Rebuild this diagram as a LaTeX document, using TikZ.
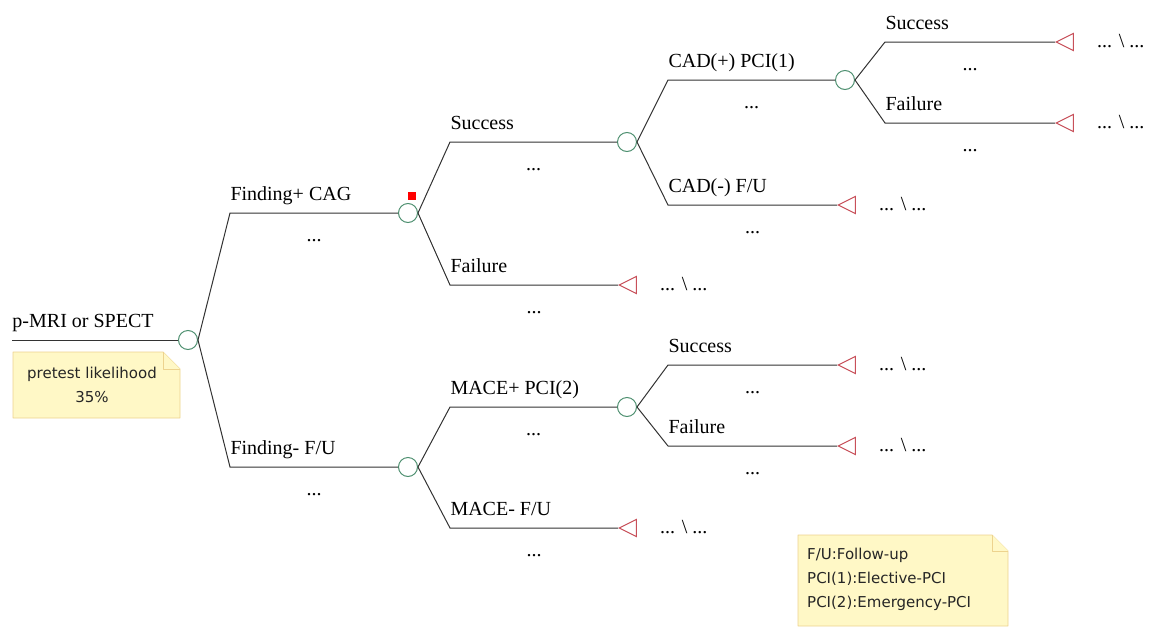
\documentclass[tikz,border=0pt]{standalone}
\usepackage{fontspec}
\setmainfont{Liberation Serif}
\newfontfamily\notefont{DejaVu Sans}
\usetikzlibrary{shapes.geometric}
\definecolor{chancegreen}{HTML}{4E9070}
\definecolor{termred}{HTML}{C8505A}
\definecolor{notefill}{HTML}{FFF8C6}
\definecolor{noteline}{HTML}{EDD38E}
\definecolor{branchgray}{HTML}{333333}

\begin{document}
\begin{tikzpicture}[x=1pt,y=-1pt,
    every node/.style={font=\fontsize{20}{24}\selectfont},
    br/.style={draw=branchgray,line width=1pt},
    chance/.style={circle,draw=chancegreen,line width=1pt,fill=white,minimum size=19pt,inner sep=0pt},
    term/.style={isosceles triangle,isosceles triangle stretches,shape border rotate=180,draw=termred,line width=1pt,fill=white,minimum width=17pt,minimum height=17pt,inner sep=0pt,anchor=apex},
    lbl/.style={pos=0,anchor=base west,yshift=13pt,inner sep=0pt},
    dots/.style={midway,anchor=base,yshift=-28pt,inner sep=0pt},
    payoff/.style={anchor=base west,inner sep=0pt},
    flag/.style={fill=red,minimum size=8pt,inner sep=0pt},
    note/.style={draw=noteline,fill=notefill,line width=0.8pt,line join=round},
    notetext/.style={font=\notefont\fontsize{15}{24}\selectfont,inner sep=0pt,text=black!85}
  ]
  \useasboundingbox (0,0) rectangle (1152,627);

  % root
  \coordinate (start) at (12,340);
  \node[chance] (root) at (188,340) {};
  \draw[br] (start) -- node[lbl]{p-MRI or SPECT} (root.west);

  % pretest note
  \draw[note] (13,352) -- (163,352) -- (180,369) -- (180,418) -- (13,418) -- cycle;
  \draw[note] (163,352) -- (163,369) -- (180,369);
  \node[notetext,align=center] (pretest) at (92,385) {pretest likelihood\\35\%};

  % first level
  \coordinate (k1) at (230,213);
  \node[chance] (cag) at (408,213) {};
  \draw[br] (root.east) -- (k1) -- node[lbl]{Finding+ CAG} node[dots]{...} (cag.west);
  \node[flag] (mark) at ([shift={(4,-17)}]cag) {};

  \coordinate (k2) at (230,467);
  \node[chance] (fu) at (408,467) {};
  \draw[br] (root.east) -- (k2) -- node[lbl]{Finding- F/U} node[dots]{...} (fu.west);

  % CAG
  \coordinate (k3) at (450,142);
  \node[chance] (cagok) at (627,142) {};
  \draw[br] (cag.east) -- (k3) -- node[lbl]{Success} node[dots]{...} (cagok.west);

  \coordinate (k4) at (450,285);
  \node[term] (t1) at (618,285) {};
  \draw[br] (cag.east) -- (k4) -- node[lbl]{Failure} node[dots]{...} (t1.apex);
  \node[payoff] (p1) at ([shift={(42,5)}]t1.apex) {... \textbackslash{} ...};

  % CAG success
  \coordinate (k5) at (668,80);
  \node[chance] (cad) at (845,80) {};
  \draw[br] (cagok.east) -- (k5) -- node[lbl]{CAD(+) PCI(1)} node[dots]{...} (cad.west);

  \coordinate (k6) at (668,205);
  \node[term] (t2) at (837,205) {};
  \draw[br] (cagok.east) -- (k6) -- node[lbl]{CAD(-) F/U} node[dots]{...} (t2.apex);
  \node[payoff] (p2) at ([shift={(42,5)}]t2.apex) {... \textbackslash{} ...};

  % PCI(1)
  \coordinate (k7) at (885,42);
  \node[term] (t3) at (1055,42) {};
  \draw[br] (cad.east) -- (k7) -- node[lbl]{Success} node[dots]{...} (t3.apex);
  \node[payoff] (p3) at ([shift={(42,5)}]t3.apex) {... \textbackslash{} ...};

  \coordinate (k8) at (885,123);
  \node[term] (t4) at (1055,123) {};
  \draw[br] (cad.east) -- (k8) -- node[lbl]{Failure} node[dots]{...} (t4.apex);
  \node[payoff] (p4) at ([shift={(42,5)}]t4.apex) {... \textbackslash{} ...};

  % F/U
  \coordinate (k9) at (450,407);
  \node[chance] (mace) at (627,407) {};
  \draw[br] (fu.east) -- (k9) -- node[lbl]{MACE+ PCI(2)} node[dots]{...} (mace.west);

  \coordinate (k10) at (450,528);
  \node[term] (t5) at (618,528) {};
  \draw[br] (fu.east) -- (k10) -- node[lbl]{MACE- F/U} node[dots]{...} (t5.apex);
  \node[payoff] (p5) at ([shift={(42,5)}]t5.apex) {... \textbackslash{} ...};

  % PCI(2)
  \coordinate (k11) at (668,365);
  \node[term] (t6) at (837,365) {};
  \draw[br] (mace.east) -- (k11) -- node[lbl]{Success} node[dots]{...} (t6.apex);
  \node[payoff] (p6) at ([shift={(42,5)}]t6.apex) {... \textbackslash{} ...};

  \coordinate (k12) at (668,446);
  \node[term] (t7) at (837,446) {};
  \draw[br] (mace.east) -- (k12) -- node[lbl]{Failure} node[dots]{...} (t7.apex);
  \node[payoff] (p7) at ([shift={(42,5)}]t7.apex) {... \textbackslash{} ...};

  % legend note
  \draw[note] (798,535) -- (992,535) -- (1008,551) -- (1008,626) -- (798,626) -- cycle;
  \draw[note] (992,535) -- (992,551) -- (1008,551);
  \node[notetext,align=left,anchor=north west] (legend) at (807,548)
    {F/U:Follow-up\\PCI(1):Elective-PCI\\PCI(2):Emergency-PCI};
\end{tikzpicture}
\end{document}
